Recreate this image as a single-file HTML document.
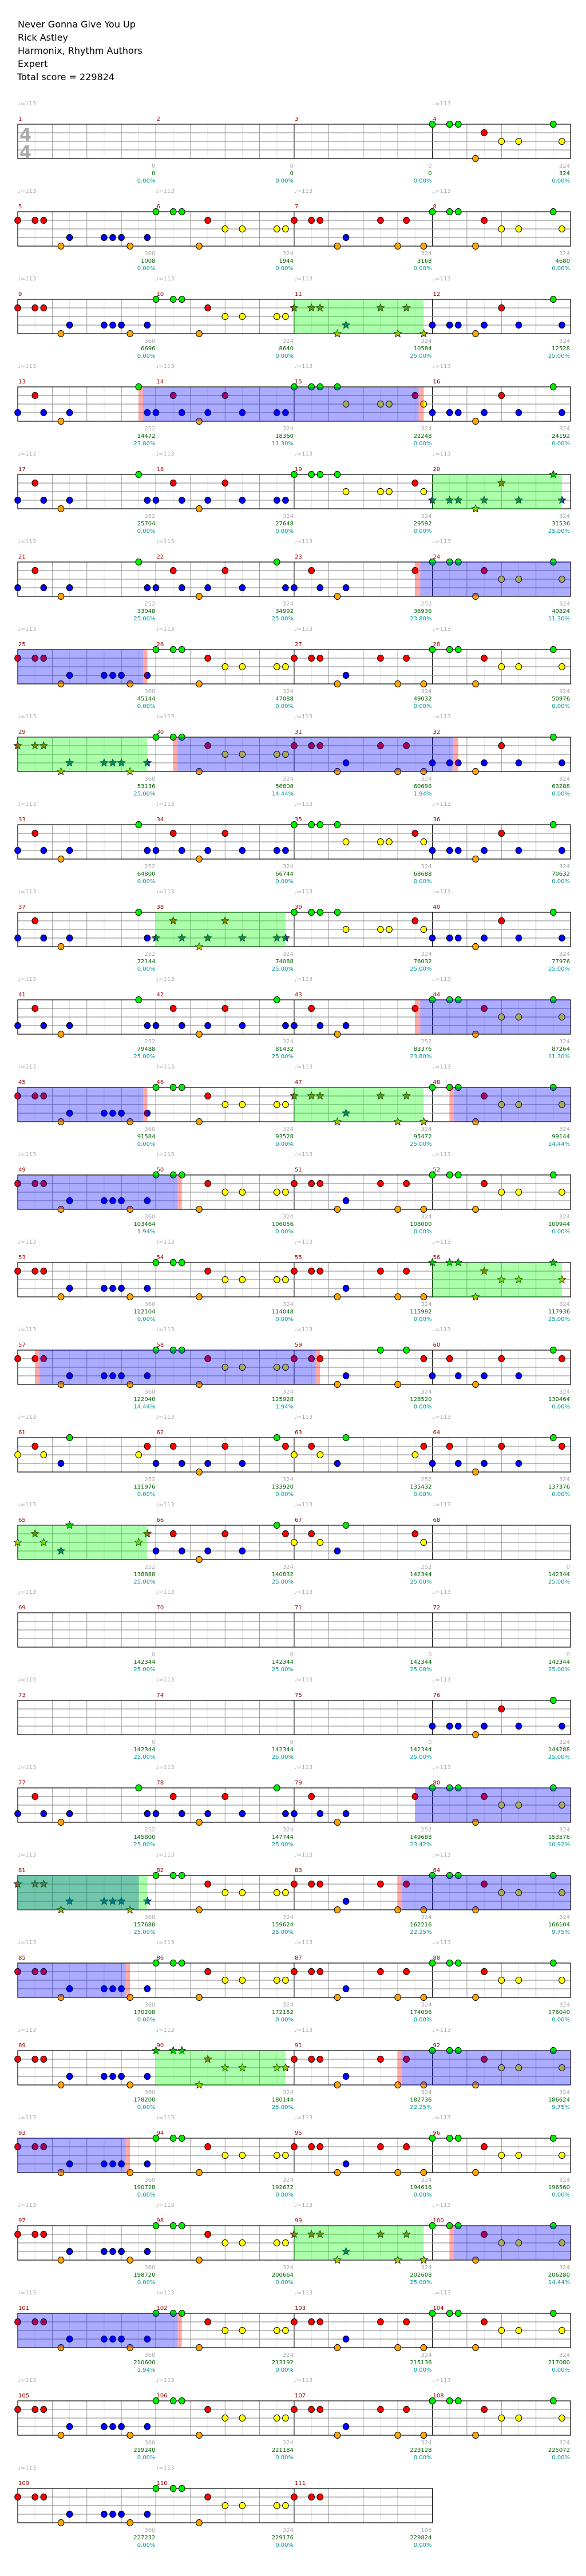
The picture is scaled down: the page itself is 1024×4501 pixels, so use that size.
<!DOCTYPE html>
<html><head><meta charset="utf-8">
<style>
html,body{margin:0;padding:0;background:#fff;width:1024px;height:4501px;overflow:hidden}
svg{display:block}
text{font-family:"DejaVu Sans","Liberation Sans",sans-serif}
</style></head>
<body>
<div id="c"></div>
<script>
const L=31, MW=241.5, E=MW/8, T0=217, RS=153;
const P={
A:"r0 r1 r1.5 o2.5 b3 b5 b5.5 b6 o6.5 b7.5",
B:"g0 g1 g1.5 o2.5 r3 y4 y5 y7 y7.5",
C:"r0 r1 r1.5 o2.5 b3 r5 o6 r6.5 o7.5",
D:"g0 g1 g1.5 o2.5 r3 y4 y5 g7 y7.5",
E:"b0 r1 b1.5 o2.5 b3 g7 b7.5",
F:"b0 r1 b1.5 o2.5 b3 r4 b5 b7 b7.5",
G:"g0 g1 g1.5 g2.5 y3 y5 y5.5 r7 y7.5",
H:"b0 b1 b1.5 o2.5 b3 r4 b5 g7 b7.5",
I:"b0 r1 b1.5 o2.5 b3 r4 b5 g7 b7.5",
J:"b0 r1 b1.5 o2.5 b3 r7",
K:"g0 g1 g1.5 o2.5 r3 y4 y5 g7 y7.5",
L:"r0 r1 r1.5 o2.5 b3 g5 o6 g6.5 r7.5",
M:"b0 r1 b1.5 o2.5 b3 r4 b5 g7 r7.5",
N:"y0 r1 y1.5 b2.5 g3 y7 r7.5",
O:"y0 r1 y1.5 b2.5 g3 r7 y7.5",
Q:"r0 r1 r1.5",
"":""};
const seq=("- - - D A B C D A B C H E F G H E F G H E I J K A B C D A B C H E F G H E F G H E I J K A B C K A B C D A B C D A B L M N M N M N M O - "+
"- - - - - - - H E I J K A B C K A B C D A B C K A B C D A B C K A B C D A B C D A B Q").split(" ").map(s=>s=="-"?"":s);
const HL={2:[["g",16,23.5]],3:[["r",7,7.25],["b",7.25,23.2],["r",23.2,23.5]],4:[["g",24,31.5]],
5:[["r",23,23.3],["b",23.3,32]],6:[["b",0,7.25],["r",7.25,7.5]],
7:[["g",0,7.5],["r",9,9.25],["b",9.25,25.2],["r",25.2,25.5]],9:[["g",8,15.5]],
10:[["r",23,23.3],["b",23.3,32]],11:[["b",0,7.25],["r",7.25,7.5],["g",16,23.5],["r",25,25.25],["b",25.25,32]],
12:[["b",0,9.25],["r",9.25,9.5]],13:[["g",24,31.5]],14:[["r",1,1.25],["b",1.25,17.25],["r",17.25,17.5]],
16:[["g",0,7.5]],19:[["b",23,32]],20:[["b",0,7],["g",0,7.5],["r",22,22.25],["b",22.25,32]],
21:[["b",0,6.25],["r",6.25,6.5]],22:[["g",8,15.5],["r",22,22.25],["b",22.25,32]],
23:[["b",0,6.25],["r",6.25,6.5]],24:[["g",16,23.5],["r",25,25.25],["b",25.25,32]],
25:[["b",0,9.25],["r",9.25,9.5]]};
const LB=`0,0,0.00;0,0,0.00;0,0,0.00;324,324,0.00;360,1008,0.00;324,1944,0.00;324,3168,0.00;324,4680,0.00;360,6696,0.00;324,8640,0.00;324,10584,25.00;324,12528,25.00;252,14472,23.80;324,18360,11.30;324,22248,0.00;324,24192,0.00;252,25704,0.00;324,27648,0.00;324,29592,0.00;324,31536,25.00;252,33048,25.00;324,34992,25.00;252,36936,23.80;324,40824,11.30;360,45144,0.00;324,47088,0.00;324,49032,0.00;324,50976,0.00;360,53136,25.00;324,56808,14.44;324,60696,1.94;324,63288,0.00;252,64800,0.00;324,66744,0.00;324,68688,0.00;324,70632,0.00;252,72144,0.00;324,74088,25.00;324,76032,25.00;324,77976,25.00;252,79488,25.00;324,81432,25.00;252,83376,23.80;324,87264,11.30;360,91584,0.00;324,93528,0.00;324,95472,25.00;324,99144,14.44;360,103464,1.94;324,106056,0.00;324,108000,0.00;324,109944,0.00;360,112104,0.00;324,114048,0.00;324,115992,0.00;324,117936,25.00;360,122040,14.44;324,125928,1.94;324,128520,0.00;324,130464,0.00;252,131976,0.00;324,133920,0.00;252,135432,0.00;324,137376,0.00;252,138888,25.00;324,140832,25.00;252,142344,25.00;0,142344,25.00;0,142344,25.00;0,142344,25.00;0,142344,25.00;0,142344,25.00;0,142344,25.00;0,142344,25.00;0,142344,25.00;324,144288,25.00;252,145800,25.00;324,147744,25.00;252,149688,23.42;324,153576,10.92;360,157680,25.00;324,159624,25.00;324,162216,22.25;324,166104,9.75;360,170208,0.00;324,172152,0.00;324,174096,0.00;324,176040,0.00;360,178200,0.00;324,180144,25.00;324,182736,22.25;324,186624,9.75;360,190728,0.00;324,192672,0.00;324,194616,0.00;324,196560,0.00;360,198720,0.00;324,200664,0.00;324,202608,25.00;324,206280,14.44;360,210600,1.94;324,213192,0.00;324,215136,0.00;324,217080,0.00;360,219240,0.00;324,221184,0.00;324,223128,0.00;324,225072,0.00;360,227232,0.00;324,229176,0.00;108,229824,0.00`.split(";").map(s=>s.split(","));
const COL={g:"#00ee00",r:"#ff0000",y:"#ffff00",b:"#0000ff",o:"#ffa500"};
const LANE={g:0,r:1,y:2,b:3,o:4};
const OV={b:"rgba(0,0,255,0.33)",g:"rgba(0,255,0,0.33)",r:"rgba(255,0,0,0.33)"};
let s=[];
s.push('<svg xmlns="http://www.w3.org/2000/svg" width="1024" height="4501" viewBox="0 0 1024 4501">');
s.push('<rect width="1024" height="4501" fill="#fff"/>');
const title=["Never Gonna Give You Up","Rick Astley","Harmonix, Rhythm Authors","Expert","Total score = 229824"];
title.forEach((t,i)=>s.push(`<text x="${i==4?30:31}" y="${48+i*23}" font-size="16" fill="#000">${t.replace(/&/g,'&amp;')}</text>`));
function star(cx,cy,r,fill){let p=[];for(let i=0;i<10;i++){const a=-Math.PI/2+i*Math.PI/5,rr=i%2?r*0.45:r;p.push((cx+rr*Math.cos(a)).toFixed(1)+","+(cy+rr*Math.sin(a)).toFixed(1));}return `<polygon points="${p.join(" ")}" fill="${fill}" stroke="#000" stroke-width="0.8"/>`;}
for(let r=0;r<28;r++){
  const top=T0+r*RS, first=r*4+1, nm=Math.min(4,111-first+1), W=nm*MW;
  for(let i=0;i<nm;i++)for(let k=0;k<8;k++){
    const x=(L+(i*8+k)*E).toFixed(1);
    if(k==0&&i==0)continue;
    const c=k==0?"#000":(k%2==0?"#999":"#e0e0e0");
    s.push(`<line x1="${x}" y1="${top}" x2="${x}" y2="${top+60}" stroke="${c}" stroke-width="1"/>`);
  }
  for(let j=1;j<4;j++)s.push(`<line x1="${L}" y1="${top+j*15}" x2="${L+W}" y2="${top+j*15}" stroke="#999" stroke-width="1.2"/>`);
  s.push(`<rect x="${L}" y="${top}" width="${W}" height="60" fill="none" stroke="#000" stroke-width="1.2"/>`);
  if(r==0){s.push(`<text x="34" y="${top+29}" font-size="30" fill="#aaa" font-weight="bold">4</text><text x="34" y="${top+59}" font-size="30" fill="#aaa" font-weight="bold">4</text>`);}
  const hl=HL[r]||[];
  const inGreen=(e)=>hl.some(h=>h[0]=="g"&&e>=h[1]-0.01&&e<=h[2]+0.01);
  for(let i=0;i<nm;i++){
    const m=first+i, pat=P[seq[m-1]]||"";
    if(pat)pat.split(" ").forEach(n=>{
      const lane=n[0], e=parseFloat(n.slice(1)), ge=i*8+e;
      const x=L+ge*E, y=top+LANE[lane]*15;
      if(inGreen(ge))s.push(star(x,y,7,lane=="r"?"#c05000":lane=="b"?"#0050a0":lane=="g"?"#00c000":"#c0c000"));
      else s.push(`<ellipse cx="${x.toFixed(1)}" cy="${y}" rx="5.3" ry="5.6" fill="${COL[lane]}" stroke="#000" stroke-width="1"/>`);
    });
    const mx=L+i*MW, ex=L+(i+1)*MW-1;
    const showT=!(r==0&&(i==1||i==2))&&!(r==27&&i==2);
    if(showT)s.push(`<text x="${mx}" y="${top-33}" font-size="10" fill="#aaa">&#9833;=113</text>`);
    s.push(`<text x="${mx+1}" y="${top-6}" font-size="10" fill="#990000">${m}</text>`);
    const lb=LB[m-1];
    s.push(`<text x="${ex}" y="${top+76}" font-size="10" fill="#aaa" text-anchor="end">${lb[0]}</text>`);
    s.push(`<text x="${ex}" y="${top+89}" font-size="10" fill="#006600" text-anchor="end">${lb[1]}</text>`);
    s.push(`<text x="${ex}" y="${top+102}" font-size="10" fill="#009999" text-anchor="end">${lb[2]}%</text>`);
  }
  hl.forEach(h=>{const x1=L+h[1]*E,x2=L+h[2]*E;s.push(`<rect x="${x1.toFixed(1)}" y="${top}" width="${(x2-x1).toFixed(1)}" height="60" fill="${OV[h[0]]}"/>`);});
}
s.push('</svg>');
document.getElementById("c").innerHTML=s.join("");
</script>
</body></html>
